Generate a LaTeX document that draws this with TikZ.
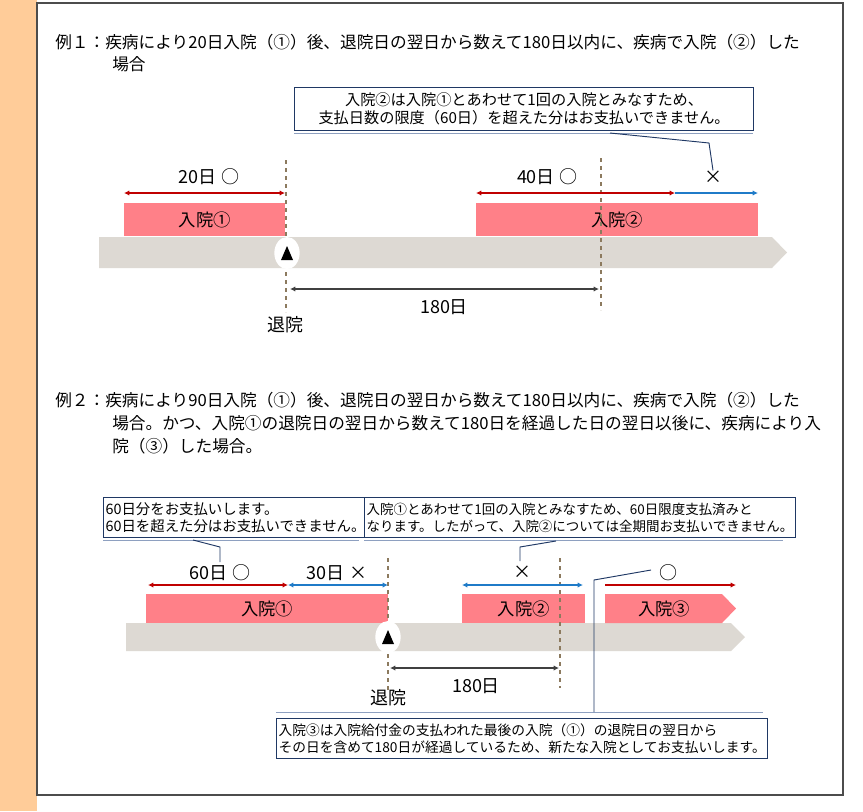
\documentclass[tikz,border=0pt]{standalone}
\usepackage{fontspec}
\setmainfont{Noto Sans CJK JP}
\usetikzlibrary{arrows.meta,shapes.geometric}
\definecolor{pinkbar}{HTML}{FF8088}
\definecolor{greybar}{HTML}{DDD9D3}
\definecolor{orangestrip}{HTML}{FFCC99}
\definecolor{redarr}{HTML}{C00000}
\definecolor{bluearr}{HTML}{1F7BC8}
\definecolor{dashbrown}{HTML}{8C7A5E}
\definecolor{navy}{HTML}{1F3864}
\definecolor{boxline}{HTML}{8EA0C0}
\tikzset{
  title/.style={anchor=west,inner sep=0,font=\fontsize{12.5}{15}\selectfont},
  callbox/.style={draw=navy,line width=0.9pt,fill=white,inner sep=1.5pt,font=\fontsize{10.8}{12.6}\selectfont},
  pinkbox/.style={fill=pinkbar,draw=none},
  lab/.style={inner sep=0,font=\fontsize{13.5}{15}\selectfont},
  barlab/.style={inner sep=0,font=\fontsize{13}{15}\selectfont},
  redline/.style={redarr,line width=1.1pt,{Latex[length=4pt,width=4pt]}-{Latex[length=4pt,width=4pt]}},
  blueline/.style={bluearr,line width=1.1pt,{Latex[length=4pt,width=4pt]}-{Latex[length=4pt,width=4pt]}},
  bluer/.style={bluearr,line width=1.1pt,-{Latex[length=4pt,width=4pt]}},
  redr/.style={redarr,line width=1.1pt,-{Latex[length=4pt,width=4pt]}},
  darkline/.style={black!75,line width=1.1pt,{Latex[length=4pt,width=4pt]}-{Latex[length=4pt,width=4pt]}},
  dashv/.style={dashbrown,dashed,line width=1pt},
  lead/.style={navy,line width=0.7pt},
  marker/.style={ellipse,fill=white,minimum width=19pt,minimum height=24pt,inner sep=0},
}
\begin{document}
\begin{tikzpicture}[x=0.75pt,y=-0.75pt]
\useasboundingbox (0,0) rectangle (863,811);
\fill[white] (0,0) rectangle (863,811);
\fill[orangestrip] (0,0) rectangle (37,811);
\draw[black!70,line width=0.8pt] (37,3) rectangle (843,795);

% ===== Example 1 =====
\node[title] (t1a) at (55,42) {例１：疾病により20日入院（①）後、退院日の翌日から数えて180日以内に、疾病で入院（②）した};
\node[title] (t1b) at (112,64) {場合};

\fill[greybar] (99,237) -- (772,237) -- (787,252.5) -- (772,268) -- (99,268) -- cycle;
\node[pinkbox,minimum width=161*0.75pt,minimum height=33*0.75pt,anchor=north west] (p11) at (124,203) {};
\node[barlab] at (p11) {入院①};
\node[pinkbox,minimum width=282*0.75pt,minimum height=33*0.75pt,anchor=north west] (p12) at (476,203) {};
\node[barlab] at (p12) {入院②};

\coordinate (d1t) at (286,160); \coordinate (d1b) at (286,312);
\coordinate (d2t) at (601,158); \coordinate (d2b) at (601,310);
\draw[dashv] (d1t) -- (d1b);
\draw[dashv] (d2t) -- (d2b);
\node[marker] (m1) at (287,253) {};
\fill (m1.center) ++(-6,7) -- ++(12,0) -- ++(-6,-14) -- cycle;

\coordinate (a1) at (124,193); \coordinate (a2) at (285,193);
\draw[redline] (a1) -- (a2);
\coordinate (a3) at (476,193); \coordinate (a4) at (675,193); \coordinate (a5) at (758,193);
\draw[redline] (a3) -- (a4);
\draw[bluer] (a4) -- (a5);
\node[lab] (l20) at (209,177) {20日 ○};
\node[lab] (l40) at (547,177) {40日 ○};
\node[lab] (x1) at (713,177) {×};

\coordinate (b1) at (290,289); \coordinate (b2) at (599,289);
\draw[darkline] (b1) -- (b2);
\node[lab] (l180a) at (444,307) {180日};
\node[lab] (tai1) at (285,325) {退院};

\node[callbox,font=\fontsize{11.4}{13.5}\selectfont,minimum width=459*0.75pt,minimum height=43*0.75pt,align=center,anchor=north west] (c1) at (294,87) {入院②は入院①とあわせて1回の入院とみなすため、\\支払日数の限度（60日）を超えた分はお支払いできません。};
\draw[boxline,line width=0.6pt] (294,133) -- (753,133);
\draw[lead] (610,133) -- (709,143) -- (x1.north);

% ===== Example 2 =====
\node[title] (t2a) at (55,400) {例２：疾病により90日入院（①）後、退院日の翌日から数えて180日以内に、疾病で入院（②）した};
\node[title] (t2b) at (112,423) {場合。かつ、入院①の退院日の翌日から数えて180日を経過した日の翌日以後に、疾病により入};
\node[title] (t2c) at (112,446) {院（③）した場合。};

\fill[greybar] (126,623) -- (731,623) -- (745,637) -- (731,651) -- (126,651) -- cycle;
\node[pinkbox,minimum width=242*0.75pt,minimum height=29*0.75pt,anchor=north west] (p21) at (146,594) {};
\node[barlab] at (p21) {入院①};
\node[pinkbox,minimum width=123*0.75pt,minimum height=29*0.75pt,anchor=north west] (p22) at (462,594) {};
\node[barlab] at (p22) {入院②};
\fill[pinkbar] (605,594) -- (722,594) -- (736,608.5) -- (722,623) -- (605,623) -- cycle;
\node[barlab] (p23) at (664,608.5) {入院③};

\coordinate (e1t) at (388,558); \coordinate (e1b) at (388,690);
\coordinate (e2t) at (560,558); \coordinate (e2b) at (560,688);
\draw[dashv] (e1t) -- (e1b);
\draw[dashv] (e2t) -- (e2b);
\node[marker] (m2) at (388,637) {};
\fill (m2.center) ++(-6,7) -- ++(12,0) -- ++(-6,-14) -- cycle;

\coordinate (f1) at (148,585); \coordinate (f2) at (288,585); \coordinate (f3) at (388,585);
\draw[redline] (f1) -- (f2);
\draw[blueline] (f2) -- (f3);
\coordinate (f4) at (462,585); \coordinate (f5) at (583,585);
\draw[blueline] (f4) -- (f5);
\coordinate (f6) at (605,585); \coordinate (f7) at (736,585);
\draw[redr] (f6) -- (f7);
\node[lab] (l60) at (220,573) {60日 ○};
\node[lab] (l30) at (337,573) {30日 ×};
\node[lab] (x2) at (522,572) {×};
\node[lab] (o3) at (668,573) {○};

\coordinate (g1) at (390,668); \coordinate (g2) at (559,668);
\draw[darkline] (g1) -- (g2);
\node[lab] (l180b) at (476,686) {180日};
\node[lab] (tai2) at (388,698) {退院};

\node[callbox,minimum width=256*0.75pt,minimum height=40*0.75pt,align=left,anchor=north west] (c2) at (103,497) {60日分をお支払いします。\\60日を超えた分はお支払いできません。};
\draw[boxline,line width=0.6pt] (103,540) -- (359,540);
\draw[lead] (193,540) -- (220,547) -- (220,562);

\node[callbox,font=\fontsize{10.1}{12.6}\selectfont,minimum width=419*0.75pt,minimum height=40*0.75pt,align=left,anchor=north west] (c3) at (364,497) {入院①とあわせて1回の入院とみなすため、60日限度支払済みと\\なります。したがって、入院②については全期間お支払いできません。};
\draw[boxline,line width=0.6pt] (364,540) -- (783,540);
\draw[lead] (556,541) -- (520,547) -- (520,561);

\node[callbox,font=\fontsize{10.3}{12.6}\selectfont,minimum width=487*0.75pt,minimum height=40*0.75pt,align=left,anchor=north west] (c4) at (276,718) {入院③は入院給付金の支払われた最後の入院（①）の退院日の翌日から\\その日を含めて180日が経過しているため、新たな入院としてお支払いします。};
\draw[boxline,line width=0.6pt] (276,712) -- (763,712);
\draw[lead] (651,570) -- (594,580) -- (594,712);
\end{tikzpicture}
\end{document}
